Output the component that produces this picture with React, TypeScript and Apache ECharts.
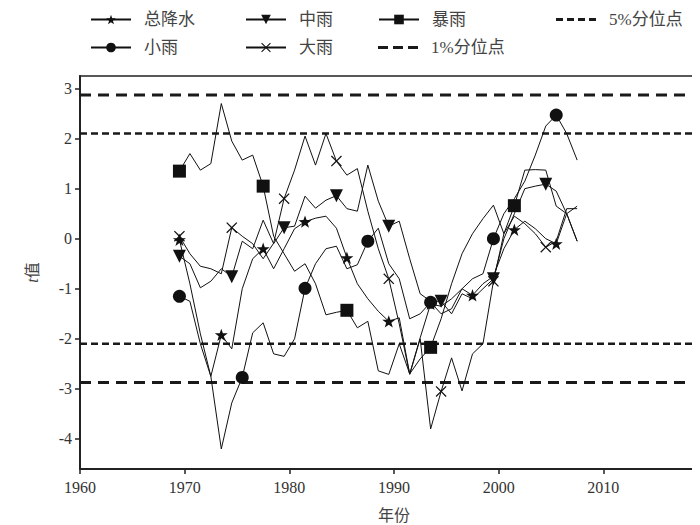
import React, { useEffect, useRef } from "react";
import * as echarts from "echarts";

// x positions (years, plotted at mid-year)
const years = [
  1969.5, 1970.5, 1971.5, 1972.5, 1973.5, 1974.5, 1975.5, 1976.5, 1977.5, 1978.5,
  1979.5, 1980.5, 1981.5, 1982.5, 1983.5, 1984.5, 1985.5, 1986.5, 1987.5, 1988.5,
  1989.5, 1990.5, 1991.5, 1992.5, 1993.5, 1994.5, 1995.5, 1996.5, 1997.5, 1998.5,
  1999.5, 2000.5, 2001.5, 2002.5, 2003.5, 2004.5, 2005.5, 2006.5, 2007.5,
];

// 总降水
const totalPrecip = [
  -0.02, -0.9, -1.9, -2.75, -1.92, -2.2, -1.0, -0.4, -0.2, -0.6,
  -0.2, 0.2, 0.34, 0.41, 0.45, 0.21, -0.38, -0.9, -1.2, -1.45,
  -1.65, -1.58, -2.7, -1.98, -1.3, -1.35, -1.2, -1.0, -1.13, -0.9,
  -0.75, -0.2, 0.18, 0.35, 0.2, 0.0, -0.1, 0.5, -0.05,
];
// 小雨
const lightRain = [
  -1.15, -1.25, -2.1, -2.75, -4.2, -3.28, -2.77, -1.88, -1.68, -2.3,
  -2.35, -2.0, -0.99, -0.5, -0.2, -0.15, -0.6, -0.52, -0.05, 0.21,
  -0.5, -0.8, -1.6, -1.5, -1.27, -1.5, -1.4, -1.0, -0.8, -0.7,
  0.0, 0.5, 0.8, 1.15, 1.67, 2.25, 2.47, 2.1, 1.57,
];
// 中雨
const moderateRain = [
  -0.35, -0.5, -0.98, -0.85, -0.6, -0.76, -0.05, -0.2, 0.37, -0.1,
  0.22, 0.25, 0.85, 0.61, 0.77, 0.86, 0.6, 0.55, 1.47, 0.75,
  0.25, 0.35, -0.4, -1.1, -1.25, -1.25, -1.5, -1.1, -1.2, -1.0,
  -0.8, 0.0, 0.5, 1.0, 1.05, 1.09, 0.95, 0.5, 0.65,
];
// 大雨
const heavyRain = [
  0.05, -0.3, -0.55, -0.6, -0.7, 0.22, 0.05, -0.1, -0.4, -0.09,
  0.8, 1.37, 2.05, 1.47, 2.1, 1.55, 1.27, 1.4, 0.55, -0.2,
  -0.8, -1.7, -2.71, -2.0, -3.8, -3.05, -2.38, -3.04, -2.3, -2.1,
  -0.85, 0.1, 0.45, 0.3, 0.1, -0.17, -0.05, 0.6, 0.6,
];
// 暴雨
const stormRain = [
  1.35, 1.7, 1.37, 1.5, 2.7, 1.95, 1.57, 1.67, 1.05, 0.05,
  -0.3, -0.65, -0.5, -0.9, -1.52, -1.47, -1.43, -1.78, -1.65, -2.64,
  -2.71, -2.1, -2.7, -2.4, -2.17, -1.6, -0.9, -0.3, 0.1, 0.4,
  0.67, 0.1, 0.66, 1.37, 1.38, 1.37, 0.65, 0.5, -0.05,
];

// significance thresholds
const p5 = 2.1;
const p1 = 2.87;

const xTicks = [1960, 1970, 1980, 1990, 2000, 2010];
const yTicks = [-4, -3, -2, -1, 0, 1, 2, 3];

const STAR =
  "path://M0,-10L2.35,-3.24L9.51,-3.09L3.8,1.24L5.88,8.09L0,4L-5.88,8.09L-3.8,1.24L-9.51,-3.09L-2.35,-3.24Z";
const CROSS =
  "path://M-10,-8.4L-8.4,-10L0,-1.6L8.4,-10L10,-8.4L1.6,0L10,8.4L8.4,10L0,1.6L-8.4,10L-10,8.4L-1.6,0Z";
const DASH4 = "path://M0,0h7v3h-7zM11,0h7v3h-7zM22,0h7v3h-7zM33,0h7v3h-7z";
const DASH3 = "path://M0,0h10v3h-10zM15,0h10v3h-10zM30,0h10v3h-10z";

const FONT = "Liberation Serif, DejaVu Serif, Noto Sans CJK SC, serif";
const INK = "#111";

function lineSeries(
  name: string,
  values: number[],
  symbol: string,
  size: number,
  step: number,
  rotate = 0
) {
  return {
    name,
    type: "line",
    data: years.map((y, i) =>
      i % step === 0
        ? { value: [y, values[i]] }
        : { value: [y, values[i]], symbol: "none" }
    ),
    symbol,
    symbolSize: size,
    symbolRotate: rotate,
    symbolKeepAspect: true,
    showSymbol: true,
    lineStyle: { color: INK, width: 1 },
    itemStyle: { color: INK },
    z: 3,
  };
}

function thresholdSeries(name: string, v: number, dash: number[], width: number) {
  return {
    name,
    type: "line",
    data: [
      [1960, v],
      [2020, v],
    ],
    symbol: "none",
    silent: true,
    lineStyle: { color: "#1a1a1a", width, type: dash },
    itemStyle: { color: "#1a1a1a" },
    z: 2,
  };
}

const textStyle = { fontSize: 17, color: "#444", fontFamily: FONT, padding: [0, 0, 0, 8] };
const legendBase = {
  itemWidth: 40,
  itemHeight: 12,
  padding: 0,
  selectedMode: false,
  textStyle,
};
const dashLegendBase = {
  itemWidth: 40,
  itemHeight: 3,
  padding: 0,
  selectedMode: false,
  textStyle,
};

export default function App() {
  const ref = useRef<HTMLDivElement>(null);

  useEffect(() => {
    if (!ref.current) return;
    const chart = echarts.init(ref.current, null, { renderer: "svg" });
    chart.setOption({
      animation: false,
      backgroundColor: "#fff",
      textStyle: { fontFamily: FONT },
      grid: {
        left: 72,
        right: -40,
        top: 68,
        bottom: 64,
        show: true,
        borderColor: "#222",
        borderWidth: 1.5,
        containLabel: false,
      },
      legend: [
        { ...legendBase, data: ["总降水"], left: 82, top: 3 },
        { ...legendBase, data: ["中雨"], left: 237, top: 3 },
        { ...legendBase, data: ["暴雨"], left: 370, top: 3 },
        { ...dashLegendBase, data: [{ name: "5%分位点", icon: DASH4 }], left: 548, top: 3 },
        { ...legendBase, data: ["小雨"], left: 82, top: 31 },
        { ...legendBase, data: ["大雨"], left: 237, top: 31 },
        { ...dashLegendBase, data: [{ name: "1%分位点", icon: DASH3 }], left: 370, top: 31 },
      ],
      xAxis: {
        type: "value",
        min: 1960,
        max: 2020,
        interval: 10,
        name: "年份",
        nameLocation: "middle",
        nameGap: 38,
        nameTextStyle: { fontSize: 16, color: "#444", fontFamily: FONT },
        axisLine: { show: true, onZero: false, lineStyle: { color: "#222", width: 2 } },
        axisTick: { show: true, inside: false, length: 5, lineStyle: { color: "#222", width: 1.5 } },
        axisLabel: {
          fontSize: 16,
          color: "#333",
          fontFamily: FONT,
          margin: 10,
          customValues: xTicks,
          formatter: (v: number) => String(v),
        },
        splitLine: { show: false },
      },
      yAxis: {
        type: "value",
        min: -4.6,
        max: 3.25,
        name: "{i|t}值",
        nameLocation: "middle",
        nameGap: 40,
        nameRotate: 90,
        nameTextStyle: {
          fontSize: 16,
          color: "#444",
          fontFamily: FONT,
          rich: { i: { fontStyle: "italic", fontSize: 16, fontFamily: FONT, color: "#444" } },
        },
        axisLine: { show: true, onZero: false, lineStyle: { color: "#222", width: 2 } },
        axisTick: {
          show: true,
          inside: false,
          length: 5,
          lineStyle: { color: "#222", width: 1.5 },
          customValues: yTicks,
        },
        axisLabel: {
          fontSize: 16,
          color: "#333",
          fontFamily: FONT,
          margin: 8,
          customValues: yTicks,
          formatter: (v: number) => String(v),
        },
        splitLine: { show: false },
      },
      series: [
        thresholdSeries("5%分位点", p5, [7, 4], 2.5),
        thresholdSeries("5%分位点", -p5, [7, 4], 2.5),
        thresholdSeries("1%分位点", p1, [11, 7], 3),
        thresholdSeries("1%分位点", -p1, [11, 7], 3),
        lineSeries("总降水", totalPrecip, STAR, 13, 4),
        lineSeries("小雨", lightRain, "circle", 13, 6),
        lineSeries("中雨", moderateRain, "triangle", 13, 5, 180),
        lineSeries("大雨", heavyRain, CROSS, 11, 5),
        lineSeries("暴雨", stormRain, "rect", 13, 8),
      ],
    });
    return () => chart.dispose();
  }, []);

  return <div ref={ref} style={{ width: 700, height: 525 }} />;
}
